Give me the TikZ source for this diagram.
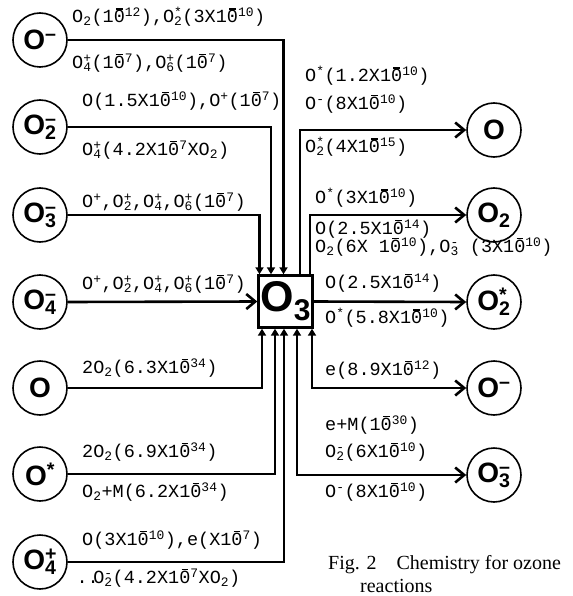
\documentclass[tikz,border=0pt]{standalone}
\usepackage{fontspec}
\setmainfont{Liberation Serif}
\setsansfont{Liberation Sans}
\setmonofont{Liberation Mono}
\usetikzlibrary{arrows.meta}

% exponents, stacked sub/superscripts and the barred ten
\newcommand\ep[1]{\textsuperscript{#1}}
\newcommand\sbp[2]{\rlap{\textsuperscript{#2}}\textsubscript{#1}}
\newcommand\tmin{1\ooalign{0\crcr\hidewidth\raisebox{0.72em}{\rule{0.36em}{0.07em}}\hidewidth\crcr}}

\begin{document}
\begin{tikzpicture}[x=1pt, y=-1pt,
  ion/.style={circle, draw, line width=1.6pt, minimum size=54pt, inner sep=0pt, font=\sffamily\bfseries\fontsize{28}{28}\selectfont},
  rate/.style={anchor=west, inner sep=0pt, font=\ttfamily\fontsize{18.5}{18.5}\selectfont},
  feed/.style={line width=2.6pt, -{Triangle[length=7pt,width=8pt]}},
  flow/.style={line width=2.6pt, -{Straight Barb[length=9pt,width=15pt]}},
  both/.style={line width=2.6pt, {Triangle[length=7pt,width=8pt]}-{Straight Barb[length=9pt,width=15pt]}}]
  \useasboundingbox (0,0) rectangle (572,596);
  % ozone box
  \node[draw, line width=2.4pt, minimum width=54pt, minimum height=52pt, inner sep=0pt,
    font=\sffamily\bfseries\fontsize{43}{43}\selectfont] (oz) at (285.5,301.5) {O\raisebox{-9pt}{\fontsize{30}{30}\selectfont 3}};
  % reactants
  \node[ion] (l1) at (40,40) {O\ep{–}};
  \node[ion] (l2) at (40,127) {O\sbp{2}{–}};
  \node[ion] (l3) at (40,215) {O\sbp{3}{–}};
  \node[ion] (l4) at (40,302) {O\sbp{4}{–}};
  \node[ion] (l5) at (40,388) {O};
  \node[ion] (l6) at (40,474) {O\ep{*}};
  \node[ion] (l7) at (40,562) {O\sbp{4}{+}};
  % products
  \node[ion] (r1) at (494,130) {O};
  \node[ion] (r2) at (494,215) {O\textsubscript{2}};
  \node[ion] (r3) at (494,302) {O\sbp{2}{*}};
  \node[ion] (r4) at (494,388) {O\ep{–}};
  \node[ion] (r5) at (494,475) {O\sbp{3}{–}};
  % connectors
  \draw[feed] (l1.east) -| ([xshift=-2pt]oz.north);
  \draw[feed] (l2.east) -| ([xshift=-14.5pt]oz.north);
  \draw[feed] (l3.east) -| ([xshift=-26pt]oz.north);
  \draw[flow] (l4.east) -- (oz.west);
  \draw[feed] (l5.east) -| ([xshift=-23.5pt]oz.south);
  \draw[feed] (l6.east) -| ([xshift=-10.5pt]oz.south);
  \draw[feed] (l7.east) -| ([xshift=-1.5pt]oz.south);
  \draw[flow] ([xshift=14.5pt]oz.north) |- (r1.west);
  \draw[flow] ([xshift=24.5pt]oz.north) |- (r2.west);
  \draw[flow] (oz.east) -- (r3.west);
  \draw[both] ([xshift=26.5pt]oz.south) |- (r4.west);
  \draw[both] ([xshift=11.5pt]oz.south) |- (r5.west);
  % rates, left
  \node[rate] (la1) at (72,17) {O\textsubscript{2}(\tmin\ep{12}),O\sbp{2}{*}(3X\tmin\ep{10})};
  \node[rate] (lb1) at (72,63) {O\sbp{4}{+}(\tmin\ep{7}),O\sbp{6}{+}(\tmin\ep{7})};
  \node[rate] (la2) at (82,101) {O(1.5X\tmin\ep{10}),O\ep{+}(\tmin\ep{7})};
  \node[rate] (lb2) at (82,150) {O\sbp{4}{+}(4.2X\tmin\ep{7}XO\textsubscript{2})};
  \node[rate] (la3) at (82,202) {O\ep{+},O\sbp{2}{+},O\sbp{4}{+},O\sbp{6}{+}(\tmin\ep{7})};
  \node[rate] (la4) at (82,284) {O\ep{+},O\sbp{2}{+},O\sbp{4}{+},O\sbp{6}{+}(\tmin\ep{7})};
  \node[rate] (la5) at (82,368) {2O\textsubscript{2}(6.3X\tmin\ep{34})};
  \node[rate] (la6) at (82,452) {2O\textsubscript{2}(6.9X\tmin\ep{34})};
  \node[rate] (lb6) at (82,492) {O\textsubscript{2}+M(6.2X\tmin\ep{34})};
  \node[rate] (la7) at (82,540) {O(3X\tmin\ep{10}),e(X\tmin\ep{7})};
  \node[rate] (lb7) at (82,578) {\makebox[0.6em]{..}O\sbp{2}{-}(4.2X\tmin\ep{7}XO\textsubscript{2})};
  % rates, right
  \node[rate] (ra1) at (305,76) {O\ep{*}(1.2X\tmin\ep{10})};
  \node[rate] (rb1) at (305,104) {O\ep{-}(8X\tmin\ep{10})};
  \node[rate] (rc1) at (305,147) {O\sbp{2}{*}(4X\tmin\ep{15})};
  \node[rate] (ra2) at (315,198) {O\ep{*}(3X\tmin\ep{10})};
  \node[rate] (rb2) at (315,229) {O(2.5X\tmin\ep{14})};
  \node[rate] (rc2) at (315,247) {O\textsubscript{2}(6X \tmin\ep{10}),O\sbp{3}{-} (3X\tmin\ep{10})};
  \node[rate] (ra3) at (325,283) {O(2.5X\tmin\ep{14})};
  \node[rate] (rb3) at (325,318) {O\ep{*}(5.8X\tmin\ep{10})};
  \node[rate] (ra4) at (325,370) {e(8.9X\tmin\ep{12})};
  \node[rate] (ra5) at (325,425) {e+M(\tmin\ep{30})};
  \node[rate] (rb5) at (325,452) {O\sbp{2}{-}(6X\tmin\ep{10})};
  \node[rate] (rc5) at (325,492) {O\ep{-}(8X\tmin\ep{10})};
  % caption
  \node[anchor=west, inner sep=0pt, font=\fontsize{20}{20}\selectfont] (cap1) at (328,565) {Fig. 2\quad Chemistry for ozone};
  \node[anchor=west, inner sep=0pt, font=\fontsize{20}{20}\selectfont] (cap2) at (360,586) {reactions};
\end{tikzpicture}
\end{document}
